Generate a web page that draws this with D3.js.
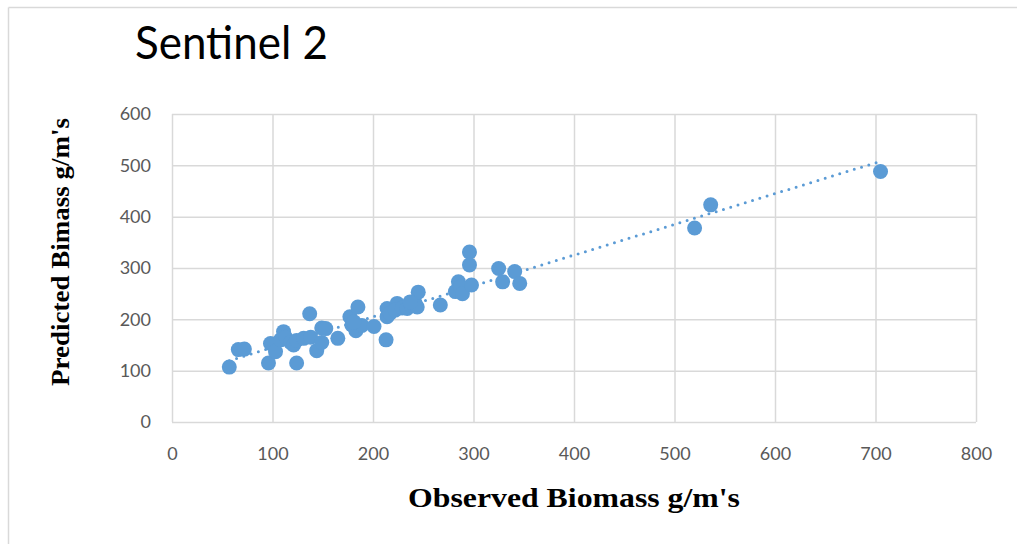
<!DOCTYPE html>
<html>
<head>
<meta charset="utf-8">
<script src="https://cdn.jsdelivr.net/npm/d3@7"></script>
<style>
  body { margin: 0; background: #fff; }
  svg { display: block; }
</style>
</head>
<body>
<div id="container"></div>
<script>
// Observed biomass (x) vs predicted biomass (y)
const observed = [57, 66, 72, 96, 98, 103, 111, 108, 113, 118, 121, 124, 124, 131, 137, 138, 144, 149, 149, 153,
  165, 177, 179, 183, 185, 189, 181, 201, 213, 214, 214, 217, 224, 222, 229, 234, 238, 242, 244, 245,
  237, 267, 282, 285, 287, 289, 298, 296, 296, 325, 329, 341, 346, 520, 536, 705];
const predicted = [107, 141, 142, 115, 153, 137, 176, 160, 165, 155, 150, 115, 159, 163, 211, 165, 139, 183, 155, 182,
  163, 205, 189, 178, 224, 188, 195, 186, 160, 221, 205, 212, 231, 218, 222, 221, 228, 231, 224, 253,
  234, 228, 254, 273, 263, 250, 267, 331, 306, 299, 273, 293, 270, 378, 423, 488];
const xTicks = [0, 100, 200, 300, 400, 500, 600, 700, 800];
const yTicks = [0, 100, 200, 300, 400, 500, 600];

const W = 1017, H = 544;
const plotL = 172, plotR = 976, plotT = 114, plotB = 422;
const blue = '#5B9BD5';
const grid = '#D9D9D9';

const svg = d3.select('#container').append('svg')
  .attr('width', W).attr('height', H);

// outer chart border (only left / top visible in the crop)
svg.append('line').attr('x1', 8.5).attr('y1', 7.5).attr('x2', 8.5).attr('y2', H)
  .attr('stroke', grid).attr('stroke-width', 1.5);
svg.append('line').attr('x1', 8.5).attr('y1', 7.5).attr('x2', W).attr('y2', 7.5)
  .attr('stroke', grid).attr('stroke-width', 1.5);

const x = d3.scaleLinear().domain([0, 800]).range([plotL, plotR]);
const y = d3.scaleLinear().domain([0, 600]).range([plotB, plotT]);

// gridlines
svg.append('g')
  .attr('transform', `translate(0,${plotB})`)
  .call(d3.axisBottom(x).tickValues(xTicks).tickSize(-(plotB - plotT)).tickFormat(''))
  .call(g => g.select('.domain').remove())
  .call(g => g.selectAll('line').attr('stroke', grid).attr('stroke-width', 1.5));
svg.append('g')
  .attr('transform', `translate(${plotL},0)`)
  .call(d3.axisLeft(y).tickValues(yTicks).tickSize(-(plotR - plotL)).tickFormat(''))
  .call(g => g.select('.domain').remove())
  .call(g => g.selectAll('line').attr('stroke', grid).attr('stroke-width', 1.5));

// tick labels
svg.append('g')
  .attr('transform', `translate(0,${plotB})`)
  .call(d3.axisBottom(x).tickValues(xTicks).tickSize(0).tickPadding(25))
  .call(g => g.select('.domain').remove())
  .call(g => g.selectAll('text').attr('fill', '#595959')
    .style('font-family', 'Lato, "Open Sans", sans-serif').style('font-size', '18px'));
svg.append('g')
  .attr('transform', `translate(${plotL},0)`)
  .call(d3.axisLeft(y).tickValues(yTicks).tickSize(0).tickPadding(21))
  .call(g => g.select('.domain').remove())
  .call(g => g.selectAll('text').attr('fill', '#595959')
    .style('font-family', 'Lato, "Open Sans", sans-serif').style('font-size', '18px'));

// linear trendline (least squares from the points)
const pts = observed.map((o, i) => [o, predicted[i]]);
const mx = d3.mean(observed), my = d3.mean(predicted);
const slope = d3.sum(pts, p => (p[0] - mx) * (p[1] - my)) / d3.sum(pts, p => (p[0] - mx) ** 2);
const icpt = my - slope * mx;
const [x0, x1] = d3.extent(observed);
svg.append('line')
  .attr('x1', x(x0)).attr('y1', y(icpt + slope * x0))
  .attr('x2', x(x1)).attr('y2', y(icpt + slope * x1))
  .attr('stroke', blue).attr('stroke-width', 3)
  .attr('stroke-dasharray', '0 7.6').attr('stroke-linecap', 'round');

// points
svg.append('g').selectAll('circle')
  .data(pts)
  .enter().append('circle')
  .attr('cx', d => x(d[0]))
  .attr('cy', d => y(d[1]))
  .attr('r', 7.5)
  .attr('fill', blue);

// title
svg.append('text')
  .attr('x', 135).attr('y', 59)
  .style('font-family', 'Lato, "Open Sans", sans-serif').style('font-size', '46px')
  .attr('fill', '#000')
  .attr('textLength', 193).attr('lengthAdjust', 'spacingAndGlyphs')
  .text('Sentinel 2');

// axis titles
svg.append('text')
  .attr('x', 574).attr('y', 507)
  .attr('text-anchor', 'middle')
  .style('font-family', '"Liberation Serif", "Times New Roman", serif')
  .style('font-size', '28px').style('font-weight', 'bold')
  .attr('textLength', 332).attr('lengthAdjust', 'spacingAndGlyphs')
  .text("Observed Biomass g/m's");
svg.append('text')
  .attr('transform', 'translate(69,252) rotate(-90)')
  .attr('text-anchor', 'middle')
  .style('font-family', '"Liberation Serif", "Times New Roman", serif')
  .style('font-size', '26px').style('font-weight', 'bold')
  .attr('textLength', 268).attr('lengthAdjust', 'spacingAndGlyphs')
  .text("Predicted Bimass g/m's");
</script>
</body>
</html>
